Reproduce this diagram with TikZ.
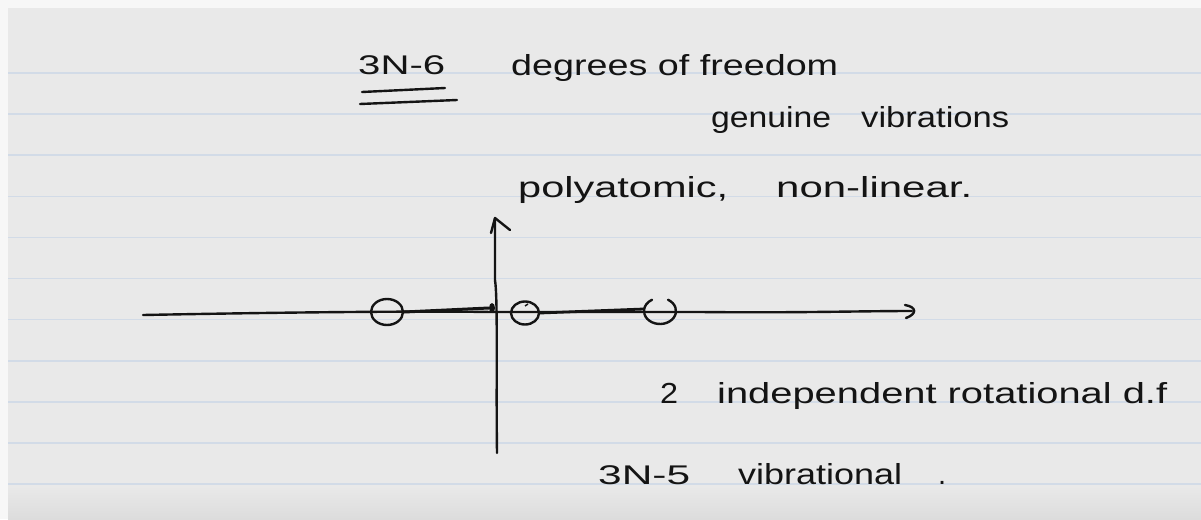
\documentclass[tikz,border=0pt]{standalone}
\usepackage{fontspec}
\setmainfont{Liberation Sans}
\usepackage{graphicx}
\usetikzlibrary{shapes.geometric,calc}
\definecolor{paper}{HTML}{E9E9E9}
\definecolor{rulecol}{HTML}{D2DBE7}
\definecolor{ink}{HTML}{141414}
\definecolor{margin}{HTML}{F7F7F7}
\definecolor{bottom}{HTML}{DCDCDC}
\newcommand{\hw}[2]{\resizebox{#1}{\height}{#2}}
\begin{document}
\begin{tikzpicture}[x=1pt,y=-1pt,
  txt/.style={inner sep=0pt, anchor=base west, text=ink, font=\fontsize{29}{33}\selectfont},
  small/.style={font=\fontsize{27}{31}\selectfont},
  pen/.style={draw=ink, line width=2.4pt, line cap=round, line join=round},
  atom/.style={ellipse, draw=ink, line width=2.4pt, inner sep=0pt}]
\useasboundingbox (0,0) rectangle (1201,519);
\fill[margin] (0,0) rectangle (1201,519);
\fill[paper] (8,8) rectangle (1201,519);
\shade[top color=paper, bottom color=bottom] (8,486) rectangle (1201,519);
\foreach \yy in {73,114.1,155.2,196.3,237.4,278.5,319.6,360.7,401.8,442.9,484}
  \draw[rulecol, line width=1.6pt] (8,\yy) -- (1201,\yy);

% texts
\node[txt, small] (t36) at (358,74) {\hw{87pt}{3N-6}};
\node[txt] (deg) at (511,75) {\hw{327pt}{degrees of freedom}};
\node[txt] (gen) at (711,127) {\hw{120pt}{genuine}};
\node[txt] (vib) at (861,127) {\hw{148pt}{vibrations}};
\node[txt] (poly) at (518,197) {\hw{210pt}{polyatomic,}};
\node[txt] (nonlin) at (776,197) {\hw{196pt}{non-linear.}};
\node[txt] (two) at (660,403) {\hw{18pt}{2}};
\node[txt] (indep) at (717,403) {\hw{450pt}{independent rotational d.f}};
\node[txt, small] (t35) at (598,484) {\hw{92pt}{3N-5}};
\node[txt] (vibr) at (738,484) {\hw{164pt}{vibrational}};
\node[txt] (dot2) at (938,484) {.};

% double underline
\coordinate (u1a) at (362,92); \coordinate (u1b) at (445,88);
\coordinate (u2a) at (360,104); \coordinate (u2b) at (457,100);
\draw[pen] (u1a) -- (u1b);
\draw[pen] (u2a) -- (u2b);

% vertical axis
\coordinate (vb) at (497,453);
\coordinate (vt) at (495,218);
\draw[pen] (vb) .. controls (496,380) and (498,300) .. (495,280) -- (vt);
\draw[pen] ($(vt)+(-4,15)$) -- (vt) -- ($(vt)+(15,12)$);

% horizontal axis
\coordinate (hl) at (143,315);
\coordinate (hr) at (912,311);
\draw[pen] (hl) .. controls (300,312) and (420,311) .. (492,312) -- (700,312) .. controls (800,313) and (860,311) .. (hr);
\draw[pen] ($(hr)+(-7,-6)$) .. controls ($(hr)+(5,-4)$) and ($(hr)+(5,3)$) .. ($(hr)+(-6,7)$);

% atoms
\node[atom, minimum width=32pt, minimum height=26pt] (a1) at (387,312) {};
\node[atom, minimum width=28pt, minimum height=23pt] (a2) at (525,313) {};
\node[inner sep=0pt, minimum width=32pt, minimum height=26pt] (a3) at (660,311) {};
\draw[pen] (a3.center) ++(-60:16 and 13) arc[start angle=-60, end angle=240, x radius=16, y radius=13];
\node[fill=ink, ellipse, minimum width=6pt, minimum height=10pt, inner sep=0pt] (org) at (492,308) {};
\draw[ink, line width=1.5pt] (528,304) -- (525,306);

% bonds
\draw[pen, line width=3pt] (a1.east) -- (org.west);
\draw[pen, line width=2.8pt] (a2.east) -- ($(a3.west)+(0,-2)$);
\end{tikzpicture}
\end{document}
